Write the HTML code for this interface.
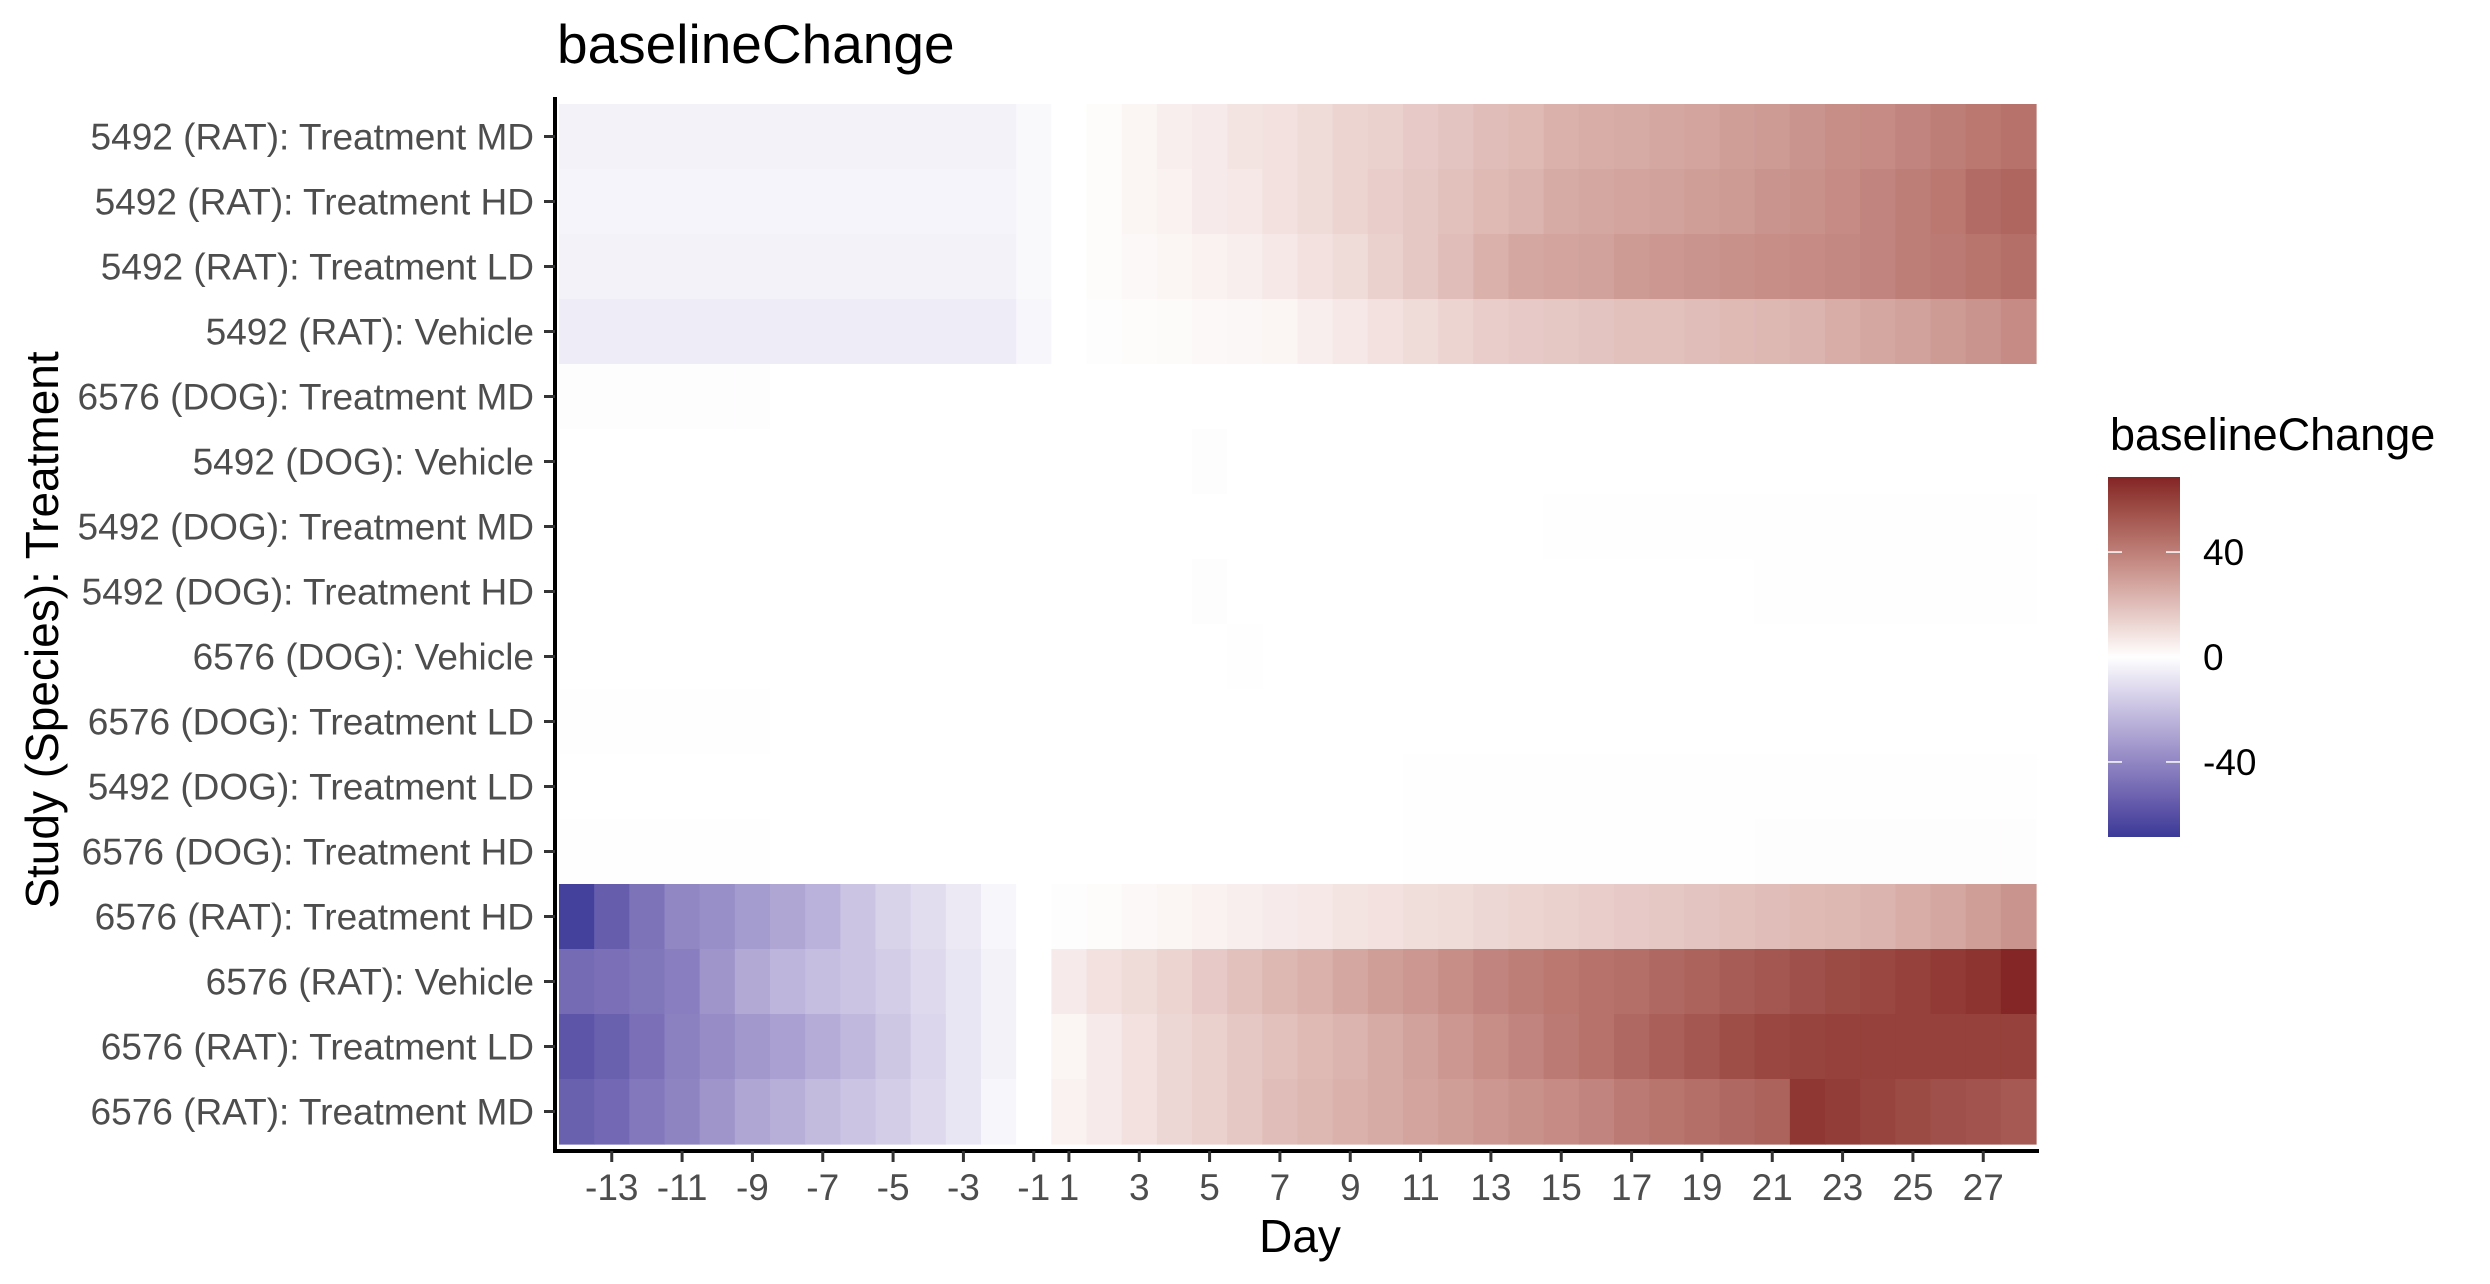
<!DOCTYPE html>
<html><head><meta charset="utf-8">
<style>
body{margin:0;background:#fff;}
svg{display:block;font-family:"Liberation Sans",Arial,sans-serif;}
</style></head>
<body>
<svg id="chart" width="2490" height="1284" viewBox="0 0 2490 1284">
<defs>
<linearGradient id="legGrad" x1="0" y1="1" x2="0" y2="0">
</linearGradient>
</defs>
<text x="557" y="63" font-size="55" fill="#000">baselineChange</text>
<g id="cells"></g>
<g id="axes"></g>
<text x="1300" y="1252" font-size="46" text-anchor="middle" fill="#000">Day</text>
<text transform="translate(58,630) rotate(-90)" font-size="46" text-anchor="middle" fill="#000">Study (Species): Treatment</text>
<g id="legend">
<text x="2110" y="450" font-size="45" fill="#000">baselineChange</text>
</g>
</svg>
<script>
const days = [-14,-13,-12,-11,-10,-9,-8,-7,-6,-5,-4,-3,-2,-1,1,2,3,4,5,6,7,8,9,10,11,12,13,14,15,16,17,18,19,20,21,22,23,24,25,26,27,28];
const rowLabels = ["5492 (RAT): Treatment MD","5492 (RAT): Treatment HD","5492 (RAT): Treatment LD","5492 (RAT): Vehicle","6576 (DOG): Treatment MD","5492 (DOG): Vehicle","5492 (DOG): Treatment MD","5492 (DOG): Treatment HD","6576 (DOG): Vehicle","6576 (DOG): Treatment LD","5492 (DOG): Treatment LD","6576 (DOG): Treatment HD","6576 (RAT): Treatment HD","6576 (RAT): Vehicle","6576 (RAT): Treatment LD","6576 (RAT): Treatment MD"];
const xTickLabels = [-13,-11,-9,-7,-5,-3,-1,1,3,5,7,9,11,13,15,17,19,21,23,25,27];
const legendTicks = [40,0,-40];
const scaleLimit = 68.6;
const row0 = [-4,-4,-4,-4,-4,-4,-4,-4,-4,-4,-4,-4,-4,-2,0,1,3,5,6,8,9,11,13,14,16,18,20,21,24,25,26,27,28,30,31,33,35,36,38,40,42,44];
const row1 = [-3.5,-3.5,-3.5,-3.5,-3.5,-3.5,-3.5,-3.5,-3.5,-3.5,-3.5,-3.5,-3.5,-2,0,1,3,4,6,7,9,11,13,15,17,19,21,23,26,27,28,29,30,31,33,34,36,38,40,42,46,48];
const row2 = [-4,-4,-4,-4,-4,-4,-4,-4,-4,-4,-4,-4,-4,-2,0,1,2,3,4,5,7,9,11,14,17,20,24,27,28,29,31,32,33,34,35,36,37,38,40,41,43,45];
const row3 = [-6,-6,-6,-6,-6,-6,-6,-6,-6,-6,-6,-6,-6,-3,0,0.5,1,1.5,2,2.5,3,5,7,9,11,13,15,16,17,18,19,19,20,21,22,23,25,27,29,31,33,36];
const row4 = [-0.5,-0.5,-0.5,-0.5,-0.5,-0.5,0,0,0,0,0,0,0,0,0,0,0,0,0,0,0,0,0,0,0,0,0,0,0,0,0,0,0,0,0,0,0,0,0,0,0,0];
const row5 = [0,0,0,0,0,0,0,0,0,0,0,0,0,0,0,0,0,0,0.5,0,0,0,0,0,0,0,0,0,0,0,0,0,0,0,0,0,0,0,0,0,0,0];
const row6 = [0,0,0,0,0,0,0,0,0,0,0,0,0,0,0,0,0,0,0,0,0,0,0,0,0,0,0,0,0.3,0.3,0.3,0.3,0.3,0.3,0.3,0.3,0.3,0.3,0.3,0.3,0.3,0.3];
const row7 = [0,0,0,0,0,0,0,0,0,0,0,0,0,0,0,0,0,0,0.5,0,0,0,0,0,0,0,0,0,0,0,0,0,0,0,0.3,0.3,0.3,0.3,0.3,0.3,0.3,0.3];
const row8 = [0,0,0,0,0,0,0,0,0,0,0,0,0,0,0,0,0,0,0,0.3,0,0,0,0,0,0,0,0,0,0,0,0,0,0,0,0,0,0,0,0,0,0];
const row9 = [-0.3,-0.3,-0.3,-0.3,-0.3,-0.3,0,0,0,0,0,0,0,0,0,0,0,0,0,0,0,0,0,0,0,0,0,0,0,0,0,0,0,0,0,0,0,0,0,0,0,0];
const row10 = [0,0,0,0,0,0,0,0,0,0,0,0,0,0,0,0,0,0,0,0,0,0,0,0,0.3,0.3,0.3,0.3,0.3,0.3,0.3,0.3,0.3,0.3,0.3,0.3,0.3,0.3,0.3,0.3,0.3,0.3];
const row11 = [-0.3,-0.3,-0.3,-0.3,-0.3,-0.3,0,0,0,0,0,0,0,0,0,0,0,0,0,0,0,0,0,0,0.3,0.3,0.3,0.3,0.3,0.3,0.3,0.3,0.3,0.3,0.5,0.5,0.5,0.5,0.5,0.5,0.5,0.5];
const row12 = [-66,-55,-47,-40,-37,-33,-29,-25,-19,-14,-11,-7,-3,0,0.5,1,2,3,4,5,6,7,8,9,10,11,12,13,14,15,16,17,18,19,20,21,22,23,25,27,30,33];
const row13 = [-50,-48,-46,-43,-35,-28,-24,-21,-19,-16,-12,-8,-4,0,6,9,11,13,16,19,22,24,27,30,32,35,38,40,42,44,45,47,49,51,53,55,57,58,60,62,64,68];
const row14 = [-58,-54,-48,-42,-38,-34,-31,-27,-23,-18,-13,-8,-4,0,3,6,9,12,14,17,19,21,23,26,29,32,35,38,41,44,47,50,53,56,58,59,60,60,60,60,60,60];
const row15 = [-54,-51,-45,-41,-35,-29,-26,-22,-19,-16,-12,-8,-3,0,4,6,9,12,14,17,20,22,24,26,28,30,32,34,36,38,41,43,45,47,49,63,61,59,57,55,54,52];
const values = [row0,row1,row2,row3,row4,row5,row6,row7,row8,row9,row10,row11,row12,row13,row14,row15];

const NS="http://www.w3.org/2000/svg";
const plotL=559, plotR=2036, plotT=104, plotB=1144;
const colW=(plotR-plotL)/days.length, rowH=(plotB-plotT)/rowLabels.length;
function xPos(i){return plotL+i*colW;}
function yPos(r){return plotT+r*rowH;}

function s2l(c){c/=255;return c<=0.04045?c/12.92:Math.pow((c+0.055)/1.055,2.4);}
function l2s(c){c=c<=0.0031308?12.92*c:1.055*Math.pow(c,1/2.4)-0.055;return Math.max(0,Math.min(255,Math.round(c*255)));}
function toLab(h){const r=s2l(parseInt(h.substr(1,2),16)),g=s2l(parseInt(h.substr(3,2),16)),b=s2l(parseInt(h.substr(5,2),16));
let X=(0.4124*r+0.3576*g+0.1805*b)/0.95047,Y=0.2126*r+0.7152*g+0.0722*b,Z=(0.0193*r+0.1192*g+0.9505*b)/1.08883;
const f=t=>t>0.008856?Math.cbrt(t):7.787*t+16/116;X=f(X);Y=f(Y);Z=f(Z);return[116*Y-16,500*(X-Y),200*(Y-Z)];}
function fromLab(L){let Y=(L[0]+16)/116,X=L[1]/500+Y,Z=Y-L[2]/200;const fi=t=>{const t3=t*t*t;return t3>0.008856?t3:(t-16/116)/7.787;};
X=fi(X)*0.95047;Y=fi(Y);Z=fi(Z)*1.08883;
const r=3.2406*X-1.5372*Y-0.4986*Z,g=-0.9689*X+1.8758*Y+0.0415*Z,b=0.0557*X-0.2040*Y+1.0570*Z;
return "rgb("+l2s(r)+","+l2s(g)+","+l2s(b)+")";}
const labW=toLab("#FFFFFF"),labHi=toLab("#832424"),labLo=toLab("#3A3A98");
function colorOf(v){let t=Math.max(-1,Math.min(1,v/scaleLimit));const e=t>=0?labHi:labLo;t=Math.abs(t);
return fromLab([labW[0]+(e[0]-labW[0])*t,labW[1]+(e[1]-labW[1])*t,labW[2]+(e[2]-labW[2])*t]);}

const cells=document.getElementById('cells');
values.forEach((row,r)=>{row.forEach((v,i)=>{
const rc=document.createElementNS(NS,'rect');
rc.setAttribute('x',xPos(i));rc.setAttribute('y',yPos(r));
rc.setAttribute('width',colW+0.6);rc.setAttribute('height',rowH+0.6);
rc.setAttribute('fill',colorOf(v));


cells.appendChild(rc);});});

const axes=document.getElementById('axes');
function line(x1,y1,x2,y2,w,c,name){const l=document.createElementNS(NS,'line');
l.setAttribute('x1',x1);l.setAttribute('y1',y1);l.setAttribute('x2',x2);l.setAttribute('y2',y2);
l.setAttribute('stroke',c);l.setAttribute('stroke-width',w);


axes.appendChild(l);}
function txt(x,y,s,size,anchor,fill,name){const t=document.createElementNS(NS,'text');
t.setAttribute('x',x);t.setAttribute('y',y);t.setAttribute('font-size',size);t.setAttribute('text-anchor',anchor);t.setAttribute('fill',fill);
t.textContent=s;


return t;}
line(555,97,555,1153,4,'#000','y-axis-line');
line(553,1151,2039,1151,4,'#000','x-axis-line');
rowLabels.forEach((lab,r)=>{const cy=yPos(r)+rowH/2;
line(544,cy,555,cy,3,'#333','y-tick');
axes.appendChild(txt(534,cy+13,lab,37,'end','#4d4d4d','y-tick-label'));});
xTickLabels.forEach(d=>{const i=days.indexOf(d);const cx=xPos(i)+colW/2;
line(cx,1151,cx,1162,3,'#333','x-tick');
axes.appendChild(txt(cx,1200,String(d),37,'middle','#4d4d4d','x-tick-label'));});

const legend=document.getElementById('legend');
const grad=document.getElementById('legGrad');
for(let k=0;k<=20;k++){const v=-scaleLimit+2*scaleLimit*k/20;const st=document.createElementNS(NS,'stop');
st.setAttribute('offset',(k/20));st.setAttribute('stop-color',colorOf(v));grad.appendChild(st);}
const lbT=477,lbB=837,lbL=2108,lbR=2180;
const bar=document.createElementNS(NS,'rect');
bar.setAttribute('x',lbL);bar.setAttribute('y',lbT);bar.setAttribute('width',lbR-lbL);bar.setAttribute('height',lbB-lbT);bar.setAttribute('fill','url(#legGrad)');


legend.appendChild(bar);
function legY(v){return (lbT+lbB)/2-v/scaleLimit*(lbB-lbT)/2;}
legendTicks.forEach(v=>{const y=legY(v);
[[lbL,lbL+14],[lbR-14,lbR]].forEach(p=>{const l=document.createElementNS(NS,'line');
l.setAttribute('x1',p[0]);l.setAttribute('x2',p[1]);l.setAttribute('y1',y);l.setAttribute('y2',y);l.setAttribute('stroke','#fff');l.setAttribute('stroke-width',1.5);


legend.appendChild(l);});
legend.appendChild(txt(2203,y+13,String(v),37,'start','#000','legend-label'));});
</script>
</body></html>
